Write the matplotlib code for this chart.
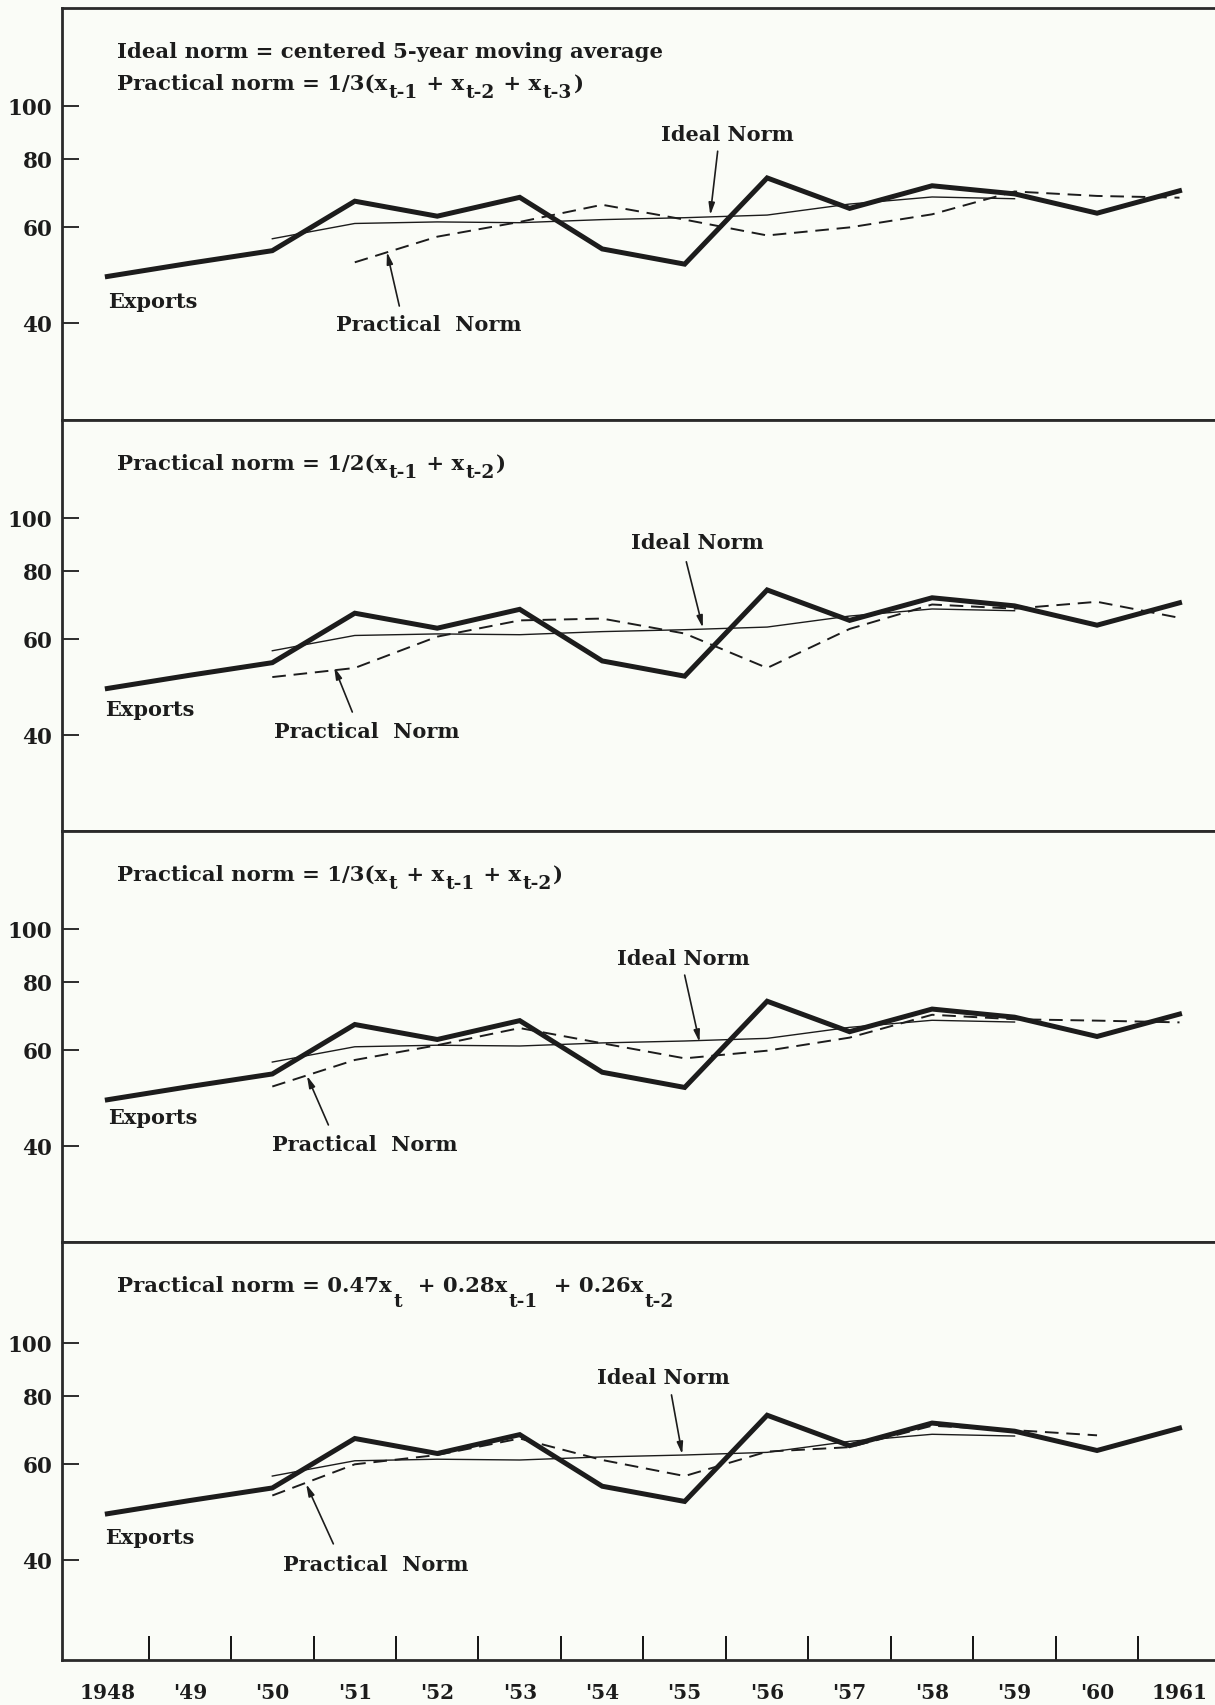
import matplotlib
matplotlib.use("Agg")
import matplotlib.pyplot as plt
from matplotlib import transforms
from matplotlib.ticker import FixedLocator, NullFormatter, FixedFormatter

# data (log scale index values)
years = list(range(1948, 1962))
exports = [48.6, 51.4, 54.2, 66.8, 62.7, 67.9, 54.6, 51.2, 73.7, 64.8, 71.3, 68.9, 63.5, 69.8]

ideal_years = list(range(1950, 1960))
ideal_norm = [57.0, 60.8, 61.2, 61.0, 61.8, 62.3, 63.0, 66.0, 68.0, 67.5]

pn1_years = list(range(1951, 1962))
pn1 = [51.6, 57.5, 61.2, 65.8, 61.8, 57.8, 59.8, 63.2, 69.6, 68.3, 67.8]
pn2_years = list(range(1950, 1962))
pn2 = [51.0, 53.0, 60.5, 64.8, 65.3, 61.3, 53.0, 62.5, 69.3, 68.1, 70.1, 65.5]
pn3_years = list(range(1950, 1962))
pn3 = [51.4, 57.5, 61.2, 65.8, 61.7, 57.9, 59.8, 63.2, 69.6, 68.3, 67.9, 67.4]
pn4_years = list(range(1950, 1961))
pn4 = [52.5, 59.9, 62.3, 66.8, 61.0, 57.0, 63.2, 64.4, 70.5, 69.2, 67.7]

practical = [(pn1_years, pn1), (pn2_years, pn2), (pn3_years, pn3), (pn4_years, pn4)]

# title pieces: (text, is_subscript)
titles = [
    [[("Ideal norm = centered 5-year moving average", False)],
     [("Practical norm = 1/3(x", False), ("t-1", True), (" + x", False), ("t-2", True),
      (" + x", False), ("t-3", True), (")", False)]],
    [[("Practical norm = 1/2(x", False), ("t-1", True), (" + x", False), ("t-2", True),
      (")", False)]],
    [[("Practical norm = 1/3(x", False), ("t", True), (" + x", False), ("t-1", True),
      (" + x", False), ("t-2", True), (")", False)]],
    [[("Practical norm = 0.47x", False), ("t", True), ("  + 0.28x", False), ("t-1", True),
      ("  + 0.26x", False), ("t-2", True)]],
]

ytick_vals = [40, 60, 80, 100]
year_labels = ["1948", "'49", "'50", "'51", "'52", "'53", "'54", "'55",
               "'56", "'57", "'58", "'59", "'60", "1961"]

# label / arrow placement per panel: (text xy), (arrow tail), (arrow tip)
ideal_lbl = [((1955.52, 88.7), (1955.40, 82.5), (1955.31, 63.0)),
             ((1955.15, 90.2), (1955.02, 83.0), (1955.22, 62.8)),
             ((1954.98, 88.5), (1955.00, 82.3), (1955.18, 62.0)),
             ((1954.74, 86.6), (1954.84, 80.3), (1954.97, 62.5))]
pract_lbl = [((1951.90, 39.8), (1951.54, 42.9), (1951.39, 53.9)),
             ((1951.14, 40.6), (1950.97, 44.0), (1950.75, 53.2)),
             ((1951.12, 40.3), (1950.68, 43.7), (1950.42, 53.8)),
             ((1951.26, 39.3), (1950.74, 42.8), (1950.41, 55.1))]
export_lbl = [(1948.55, 43.8), (1948.51, 44.5), (1948.55, 45.2), (1948.52, 44.0)]

plt.rcParams['font.family'] = 'DejaVu Serif'
plt.rcParams['font.weight'] = 'bold'

W, H = 1215, 1706
bg = '#fafcf7'
ink = '#1c1c1c'
fs = 15
fig = plt.figure(figsize=(W / 100, H / 100), dpi=100, facecolor=bg)
renderer = fig.canvas.get_renderer()


def rich_text(ax, x, y, parts, size, drop):
    xoff = 0.0
    for s, sub in parts:
        tr = transforms.offset_copy(ax.transAxes, fig=fig, x=xoff,
                                    y=-drop if sub else 0, units='points')
        t = ax.text(x, y, s, transform=tr, fontsize=size * 0.88 if sub else size,
                    ha='left', va='baseline', color=ink)
        xoff += t.get_window_extent(renderer).width * 72 / fig.dpi + 1.0


tops = [9, 421, 832, 1243]
bots = [421, 832, 1243, 1661]
p100 = [106.7, 518.7, 930, 1344]
px_dec = 545.0
left = 62 / W

for i in range(4):
    ax = fig.add_axes([left, 1 - bots[i] / H, 1 - left, (bots[i] - tops[i]) / H])
    ax.set_facecolor(bg)
    ax.set_yscale('log')
    ax.set_ylim(100 * 10 ** (-(bots[i] - p100[i]) / px_dec), 100 * 10 ** ((p100[i] - tops[i]) / px_dec))
    ax.set_xlim(1947.45, 1948 + (W - 107) / 82.5)

    ax.plot(ideal_years, ideal_norm, color=ink, lw=1.0, zorder=2)
    px, py = practical[i]
    ax.plot(px, py, color=ink, lw=1.4, dashes=(7, 4), zorder=2)
    ax.plot(years, exports, color=ink, lw=3.6, solid_joinstyle='miter', zorder=3)

    h = bots[i] - tops[i]
    for k, parts in enumerate(titles[i]):
        base = 49 + k * 32
        rich_text(ax, 0.0477, 1 - base / h, parts, 15.3, 6 if i < 3 else 11)

    (tx, ty), tail, tip = ideal_lbl[i]
    ax.text(tx, ty, "Ideal Norm", fontsize=fs, ha='center', va='center', color=ink)
    ax.annotate('', xy=tip, xytext=tail,
                arrowprops=dict(arrowstyle='-|>,head_length=0.7,head_width=0.18',
                                color=ink, lw=1.2, shrinkA=0, shrinkB=0))
    (tx, ty), tail, tip = pract_lbl[i]
    ax.text(tx, ty, "Practical  Norm", fontsize=fs, ha='center', va='center', color=ink)
    ax.annotate('', xy=tip, xytext=tail,
                arrowprops=dict(arrowstyle='-|>,head_length=0.7,head_width=0.18',
                                color=ink, lw=1.2, shrinkA=0, shrinkB=0))
    ax.text(export_lbl[i][0], export_lbl[i][1], "Exports", fontsize=fs,
            ha='center', va='center', color=ink)

    ax.yaxis.set_major_locator(FixedLocator(ytick_vals))
    ax.yaxis.set_major_formatter(FixedFormatter([str(v) for v in ytick_vals]))
    ax.yaxis.set_minor_locator(FixedLocator([]))
    ax.tick_params(axis='y', direction='in', length=12, width=1.3, pad=7,
                   labelsize=15.5, colors=ink)

    for s in ['top', 'bottom', 'left']:
        ax.spines[s].set_linewidth(2.0)
        ax.spines[s].set_color('#2a2a2a')
    ax.spines['right'].set_visible(False)

    if i < 3:
        ax.set_xticks([])
    else:
        ax.xaxis.set_major_locator(FixedLocator([y + 0.5 for y in years[:-1]]))
        ax.xaxis.set_major_formatter(NullFormatter())
        ax.xaxis.set_minor_locator(FixedLocator(years))
        ax.xaxis.set_minor_formatter(FixedFormatter(year_labels))
        ax.tick_params(axis='x', which='major', direction='in', length=17, width=1.3)
        ax.tick_params(axis='x', which='minor', length=0, pad=16, labelsize=14.5, colors=ink)

fig.savefig('out.png', dpi=100, facecolor=bg)
